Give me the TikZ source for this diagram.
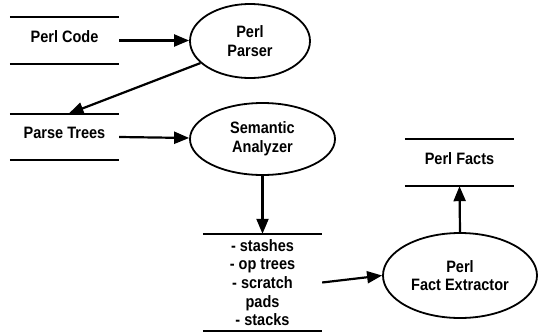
\documentclass[tikz,border=0pt]{standalone}
\usepackage{fontspec}
\setmainfont{Liberation Sans}[FakeStretch=0.88]
\usetikzlibrary{arrows.meta,calc,shapes.geometric}
\tikzset{
  labelfont/.style={font=\fontsize{16.5}{18.7}\selectfont\bfseries},
  proc/.style={draw, ellipse, line width=1.8pt, inner sep=0pt, align=center, labelfont},
  store/.style={rectangle, inner sep=0pt, align=center, minimum width=109pt, labelfont},
  raised/.style={text height=10pt, text depth=7pt},
  storeline/.style={line width=2.4pt},
  flow/.style={line width=2.2pt, -{Triangle[length=15pt,width=12pt]}}
}
\begin{document}
\begin{tikzpicture}[x=1pt,y=-1pt]
  \useasboundingbox (0,0) rectangle (538,335);

  % data stores
  \node[store, raised, minimum height=47pt] (code)  at (64.5,40.5) {Perl Code};
  \node[store, raised, minimum height=46pt] (trees) at (64.5,137)  {Parse Trees};
  \node[store, raised, minimum height=47pt] (facts) at (459.5,162.5) {Perl Facts};
  \node[store, minimum width=119pt, minimum height=97pt] (stash) at (262.5,282.5)
    {- stashes\\- op trees\\- scratch\\pads\\- stacks};

  \foreach \s in {code,trees,facts,stash}{
    \draw[storeline] (\s.north west) -- (\s.north east);
    \draw[storeline] (\s.south west) -- (\s.south east);
  }

  % processes
  \node[proc, minimum width=120pt, minimum height=74pt] (parser) at (250,41)
    {Perl\\Parser};
  \node[proc, minimum width=145pt, minimum height=72pt] (sem) at (262.5,139)
    {Semantic\\Analyzer};
  \node[proc, minimum width=154pt, minimum height=85pt] (ext) at (460,275.5)
    {Perl\\Fact Extractor};

  % data flows
  \draw[flow] (code.east) -- (parser.west |- code.east);
  \draw[flow] (parser.204) -- ([xshift=4pt]trees.north);
  \draw[flow] (trees.east) -- (sem);
  \draw[flow] (sem.south) -- (stash.north);
  \draw[flow] (stash.east) -- (ext.west);
  \draw[flow] (ext.north) -- (facts.south);
\end{tikzpicture}
\end{document}
